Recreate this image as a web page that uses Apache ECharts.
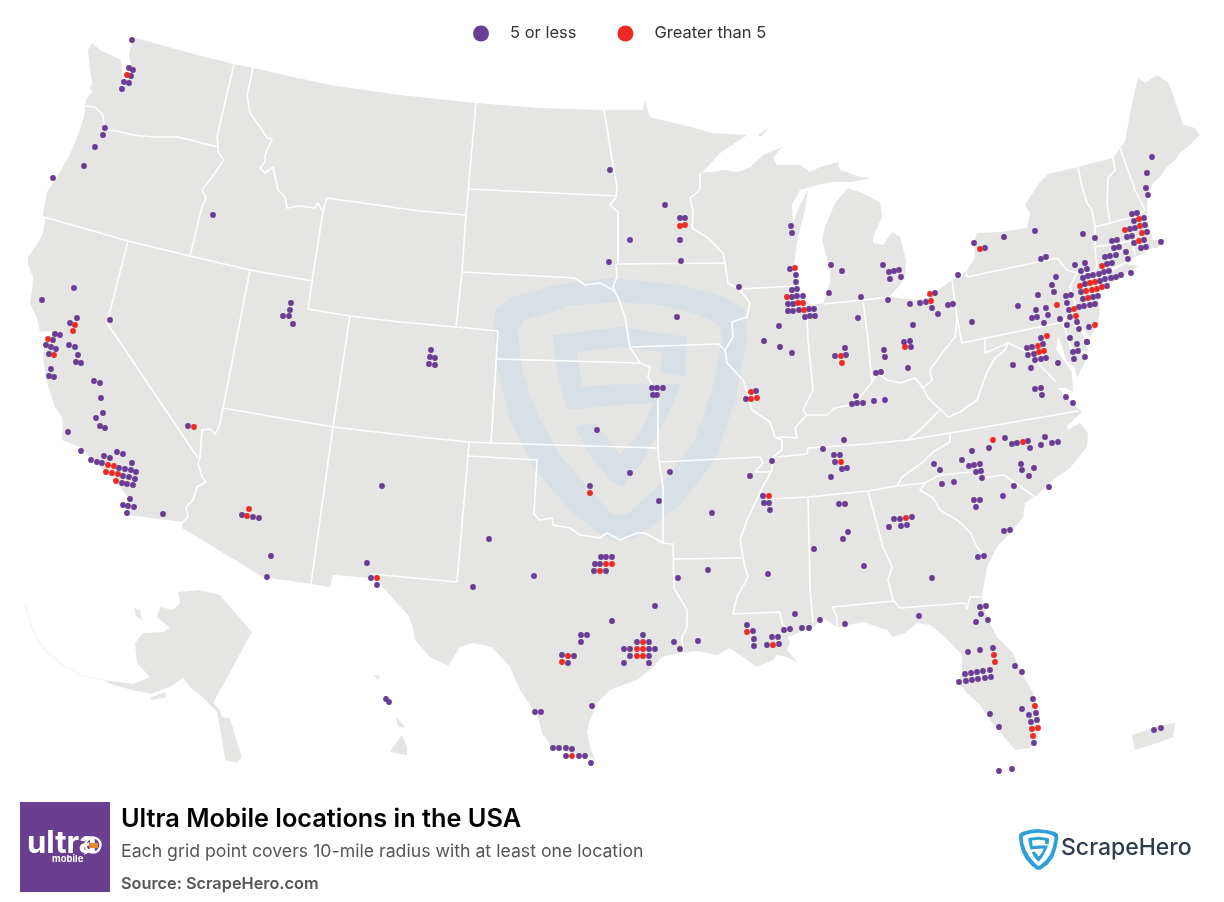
<!DOCTYPE html>
<html>
<head>
<meta charset="utf-8">
<title>Ultra Mobile locations in the USA</title>
<script src="https://cdn.jsdelivr.net/npm/echarts@6/dist/echarts.min.js"></script>
<style>
  html, body { margin: 0; padding: 0; background: #fff; }
  #chart { width: 1224px; height: 902px; }
</style>
</head>
<body>
<div id="chart"></div>
<script>

const legendNames = ['5 or less', 'Greater than 5'];

const fewStores = [
  [132,40],[129,68],[133,70],[131,76],[124,82],[129,83],[122,89],[105,128],[103,135],[95,147],[84,166],[53,178],[213,215],
  [74,288],[42,300],[291,303],[290,310],[283,316],[289,316],[293,324],
  [77,318],[70,323],[110,320],[55,334],[60,335],[53,340],[46,345],[51,347],[56,349],[49,354],[69,345],[75,347],[78,355],
  [76,362],[81,363],[51,369],[49,376],[54,377],[94,381],[100,383],[101,398],[103,413],[96,418],[100,426],[105,428],[68,432],
  [81,451],[117,452],[123,454],[104,456],[110,458],[91,460],[97,462],[102,463],[132,463],[119,468],[125,469],[131,470],[136,472],
  [123,476],[129,477],[135,479],[122,483],[127,484],[133,485],[130,499],[123,505],[128,506],[134,507],[127,513],[163,514],
  [188,426],[242,515],[253,517],[259,518],[271,556],[267,577],[382,486],[367,563],[371,578],[377,585],
  [610,170],[665,205],[680,218],[685,218],[630,240],[680,240],[609,262],[681,261],[739,287],[677,317],
  [431,350],[430,357],[435,358],[429,364],[435,365],[791,226],[792,233],[790,269],[796,275],[796,282],[792,290],[797,289],
  [792,297],[797,296],[803,296],[788,304],[793,304],[788,311],[793,311],[799,310],[809,309],[814,309],[805,317],[810,316],[815,316],
  [779,326],[764,341],[780,347],[792,353],
  [652,388],[657,388],[663,388],[653,395],[657,395],[597,430],[630,473],[670,472],[590,486],[659,501],[712,513],[489,539],
  [473,587],[534,576],[601,557],[606,557],[612,557],[595,564],[600,564],[594,571],[606,571],[678,578],[708,570],[655,606],[612,621],
  [581,635],[587,635],[581,642],[643,635],[637,642],[649,642],[624,649],[630,649],[649,649],[655,649],[630,656],[649,656],[624,663],[649,663],
  [562,655],[574,656],[568,663],[674,642],[680,649],[698,641],[747,625],[753,631],[754,639],[754,646],[756,391],[746,399],[750,476],
  [592,706],[535,712],[541,712],[553,748],[559,748],[566,748],[572,749],[566,756],[579,756],[585,756],[591,763],
  [772,637],[778,637],[767,645],[779,644],[795,614],[784,630],[790,629],[802,628],[809,628],[820,620],
  [845,348],[835,356],[846,355],[884,350],[885,357],[904,342],[910,341],[911,347],[908,368],[876,373],[881,372],[856,396],[852,404],[857,403],
  [863,403],[874,401],[885,400],[844,440],[823,449],[834,455],[840,455],[835,462],[842,469],[847,468],[831,477],[772,461],[763,496],
  [764,503],[769,503],[770,510],[839,504],[845,504],[848,532],[843,539],[814,549],[768,574],[864,566],[894,519],[900,519],[912,517],
  [889,527],[901,526],[907,525],[932,578],[978,557],[984,556],[1004,531],[1010,530],[974,500],[980,500],[976,507],[1003,496],[1014,486],
  [1049,487],[942,484],[954,482],[934,464],[940,470],[962,460],[969,466],[974,465],[980,464],[976,472],[981,471],[982,478],[972,451],
  [989,448],[1005,438],[1012,444],[1017,443],[1028,441],[1030,448],[1045,437],[1041,445],[1052,443],[1058,442],[1021,464],[1022,470],
  [1034,468],[1029,476],[1035,389],[1041,388],[1042,395],[1066,397],[1073,403],[1013,365],[1031,368],[1058,363],[1027,348],[1032,347],
  [1043,344],[1028,355],[1034,354],[1035,360],[1041,359],[1046,358],[1077,344],[1087,342],[1073,352],[1078,351],[1074,359],[1085,357],
  [845,624],[919,616],[980,607],[986,606],[981,614],[976,622],[988,620],
  [968,652],[980,650],[993,648],[1015,666],[1022,672],[965,674],[971,673],[977,672],[983,671],[990,670],[959,682],[966,681],[972,680],
  [978,679],[985,678],[991,677],[1033,699],[1036,713],[1037,720],[1022,709],[1029,715],[1031,722],[1034,743],[990,714],[999,727],
  [999,771],[1012,769],[1154,730],[1161,728],[386,699],[389,702],
  [831,265],[842,271],[883,265],[889,272],[894,271],[899,270],[890,279],[901,277],[829,293],[861,297],[888,300],[910,304],[920,303],[926,302],
  [935,293],[932,308],[938,314],[948,305],[953,304],[958,275],[858,318],[913,325],[974,243],[985,248],[1004,237],[1035,231],[1083,234],[1095,238],
  [972,322],[1018,306],[1038,295],[1056,277],[1052,285],[1054,292],[1041,259],[1046,257],[1075,265],[1085,263],[1081,271],[1087,269],
  [1036,310],[1046,308],[1032,318],[1037,317],[1048,315],[1044,323],[1060,319],[1066,296],[1071,295],[1067,303],[1069,310],[1070,317],
  [1077,322],[1067,325],[1079,329],[1089,327],[1079,307],[1084,306],[1090,305],[1095,304],[1083,299],[1093,297],[1098,296],[1081,292],
  [1107,286],[1085,284],[1100,281],[1105,279],[1111,278],[1116,277],[1121,275],[1131,273],[1083,278],[1088,276],[1093,275],[1099,274],
  [1104,272],[1109,271],[1107,264],[1112,263],[1105,257],[1110,256],[1116,255],[1128,259],[1126,252],[1114,248],[1119,247],[1112,241],
  [1117,240],[1127,237],[1132,236],[1130,229],[1135,228],[1145,225],[1147,232],[1144,240],[1134,243],[1141,248],[1146,247],[1161,242],
  [1134,221],[1144,218],[1132,214],[1137,213],[1148,195],[1146,188],[1147,173],[1152,157],[1041,338],[1070,338],[1087,342]
];

const manyStores = [
  [127,75],[75,325],[73,331],[48,339],[54,355],[108,465],[114,466],[106,472],[112,473],[118,474],[116,481],[194,427],[249,509],[247,516],[377,578],
  [680,226],[685,225],[795,268],[787,297],[798,303],[803,303],[804,310],[590,493],[606,564],[612,564],[600,571],[643,642],[637,649],[643,649],
  [637,656],[643,656],[568,656],[562,662],[747,632],[751,392],[751,399],[757,398],[572,756],[773,645],[841,356],[842,363],[905,347],[841,462],
  [769,496],[906,518],[993,440],[1023,442],[1038,346],[1039,352],[1044,351],[1047,336],[994,655],[995,662],[1035,706],[1032,729],[1038,728],[1033,736],
  [930,294],[931,301],[980,249],[1057,305],[1074,309],[1076,316],[1095,325],[1088,298],[1086,291],[1092,290],[1097,289],[1102,287],[1080,286],
  [1090,283],[1095,282],[1102,266],[1125,230],[1140,226],[1142,233],[1139,241],[1139,219]
];

// land outlines
const mainland = [
  [132,37],[131,46],[129,54],[131,64],[129,75],[125,85],[122,87],[122,70],[121,60],[113,56],[100,50],[92,43],[88,50],[90,70],[92,83],[90,88],[92,92],
  [87,98],[85,105],[85,112],[82,123],[75,143],[67,160],[55,180],[47,192],[45,203],[43,215],[45,220],[43,233],[38,243],[28,257],[28,265],[33,277],[32,290],
  [30,303],[37,318],[40,332],[47,331],[52,332],[52,337],[46,338],[45,343],[43,357],[47,383],[55,407],[62,417],[63,425],[62,440],[80,447],[90,457],[103,470],
  [117,483],[128,497],[128,515],[183,522],[182,528],[263,577],[312,584],[330,587],[333,575],[372,578],[377,578],[383,588],[397,603],[408,615],[413,627],[415,640],
  [430,657],[448,666],[460,647],[472,643],[492,647],[510,667],[520,690],[538,717],[542,733],[552,747],[567,752],[590,757],[595,760],[590,747],[587,732],[590,720],
  [597,703],[610,690],[637,680],[653,667],[662,657],[680,653],[697,651],[717,655],[730,648],[747,660],[757,667],[773,660],[777,655],[787,657],[798,663],[787,650],
  [790,643],[788,637],[813,627],[823,618],[837,627],[863,622],[887,630],[893,637],[905,633],[917,623],[930,625],[945,637],[962,655],[962,673],[958,682],[967,693],
  [980,705],[990,720],[1000,732],[1015,750],[1030,748],[1038,737],[1040,717],[1033,693],[1020,670],[1013,653],[997,637],[987,617],[982,597],[987,567],[997,547],
  [1013,530],[1023,517],[1025,503],[1037,495],[1053,480],[1070,468],[1087,447],[1088,433],[1080,423],[1068,430],[1067,426],[1082,412],[1073,403],[1066,396],
  [1058,388],[1066,388],[1073,392],[1072,372],[1062,358],[1056,350],[1058,336],[1062,345],[1066,360],[1075,368],[1077,378],[1085,362],[1088,350],[1083,335],
  [1074,325],[1080,326],[1090,337],[1097,327],[1100,310],[1097,295],[1097,287],[1108,285],[1122,277],[1138,266],[1126,264],[1112,271],[1103,278],[1100,276],
  [1112,268],[1127,261],[1145,252],[1152,248],[1157,248],[1168,238],[1160,240],[1153,240],[1150,230],[1147,220],[1147,207],[1148,195],[1153,183],[1160,177],[1167,167],
  [1175,160],[1180,153],[1190,145],[1200,135],[1195,128],[1183,125],[1180,115],[1177,107],[1172,92],[1168,82],[1157,75],[1145,83],[1138,78],[1135,90],[1132,103],[1128,125],[1125,142],[1120,148],[1113,158],[1078,167],[1048,174],
  [1040,182],[1030,197],[1025,205],[1030,213],[1027,228],[1000,232],[977,233],[974,243],[975,258],[967,270],[952,280],[938,290],[930,297],[917,300],[897,298],[890,296],
  [900,285],[905,277],[906,260],[900,237],[892,232],[883,245],[873,243],[873,237],[882,217],[880,202],[862,193],[848,188],[835,203],[825,227],[822,240],[830,270],
  [830,283],[823,303],[812,305],[803,300],[797,287],[793,270],[798,237],[805,210],[808,190],[800,205],[793,222],[792,205],[800,190],[818,185],[833,182],[852,182],
  [872,178],[860,177],[840,170],[838,162],[820,167],[810,172],[800,165],[777,165],[773,158],[782,147],[763,155],[750,167],[738,172],[725,170],[702,173],[720,153],
  [747,135],[712,133],[695,128],[670,122],[650,117],[645,100],[643,110],[603,110],[540,108],[476,103],[400,95],[330,85],[253,68],[234,64],[190,53]
];
const alaska = [
  [178,592],[200,590],[220,595],[230,607],[252,632],[213,703],[220,710],[222,717],[230,718],[240,752],[242,757],[237,763],[225,760],[222,740],[217,712],[200,695],
  [190,687],[183,678],[170,687],[150,694],[133,690],[113,685],[103,680],[133,684],[150,677],[137,663],[135,643],[143,633],[163,632],[170,628],[157,617],[160,607],
  [173,610],[180,603]
];
const kodiak = [[150,698],[165,692],[166,697],[152,700]];
const stLawrence = [[134,608],[140,610],[142,620],[136,616]];
const isleRoyale = [[758,135],[768,128],[766,132],[760,137]];
const hawaii = [[390,752],[396,743],[402,735],[407,747],[407,755]];
const maui = [[395,716],[405,727],[405,728],[398,726]];
const oahu = [[373,675],[380,676],[378,680]];
const puertoRico = [[1132,735],[1163,725],[1175,723],[1173,737],[1160,742],[1135,750]];
const landShapes = [mainland, alaska, kodiak, stLawrence, isleRoyale, hawaii, maui, oahu, puertoRico];

const aleutians = [[25,605],[33,630],[43,648],[60,663],[80,675],[103,680]];

// state borders
const stateBorders = [
  [[234,64],[217,137],[218,147]],
  [[218,147],[218,152],[224,160],[212,177],[202,190],[206,198],[202,207],[190,256]],
  [[86,106],[95,107],[103,115],[105,130],[117,131],[133,135],[153,137],[178,137],[218,147]],
  [[44,217],[128,241],[190,256],[250,270],[312,281]],
  [[253,68],[247,96],[250,113],[260,127],[267,138],[272,139],[265,155],[265,162],[260,168],[265,173],[273,167],[278,190],[285,197],[287,208],[300,206],[315,208],[318,203],[323,212]],
  [[327,198],[323,212],[312,281],[308,309]],
  [[327,198],[420,211],[466,215]],
  [[308,309],[350,316],[400,322],[456,327],[498,331]],
  [[476,103],[466,215],[462,272],[456,327]],
  [[250,270],[223,408],[219,427]],
  [[350,316],[333,427],[311,584]],
  [[223,408],[333,427],[420,437],[469,442],[491,443],[658,448]],
  [[498,331],[491,443]],
  [[128,241],[107,323],[198,458]],
  [[219,427],[215,434],[210,429],[202,430],[200,457],[198,463],[202,477],[206,482],[197,487],[193,500],[186,507],[188,517],[183,522]],
  [[469,442],[468,456],[537,460],[534,514],[540,520],[552,518],[553,525],[570,528],[580,535],[600,538],[607,533],[620,540],[637,533],[645,533],[663,543],[673,544],[674,588],[687,610],[687,627],[682,637],[683,650]],
  [[468,456],[457,582],[372,574]],
  [[658,448],[659,462],[663,487],[663,543]],
  [[674,559],[742,558]],
  [[700,173],[700,190],[690,198],[693,210],[692,228],[708,238],[723,253],[725,263],[728,283],[740,290],[750,303],[747,317],[732,322],[733,337],[725,350],[727,363],[743,380],[748,395],[752,410],[770,422],[775,437],[782,440],[782,450],[773,457],[772,470],[762,488],[755,503],[747,520],[740,540],[745,567],[748,577],[737,597],[733,614],[780,612],[782,623],[787,630]],
  [[616,264],[725,263]],
  [[604,110],[610,147],[617,187],[616,197],[610,205],[618,212],[618,264]],
  [[468,189],[617,196]],
  [[462,272],[575,278],[585,285],[600,283],[613,290],[618,297]],
  [[616,264],[617,277],[613,287],[618,297],[625,317],[630,347],[640,363],[650,367],[648,377],[658,395],[658,448]],
  [[497,359],[640,363]],
  [[632,347],[718,344],[725,350]],
  [[659,462],[720,459],[760,457],[763,463],[755,472],[772,472]],
  [[777,457],[807,454],[808,448],[867,444],[907,440],[950,433],[1078,411]],
  [[769,499],[808,497],[868,491],[897,486],[925,483]],
  [[950,433],[950,442],[933,452],[923,462],[902,477],[897,486]],
  [[907,440],[920,430],[940,410]],
  [[923,388],[928,398],[940,409],[948,417],[960,412],[977,400],[987,372],[995,358],[1005,350],[1008,343],[1017,347],[1030,353],[1040,365],[1056,382]],
  [[775,438],[782,437],[797,438],[795,428],[807,415],[827,415],[835,408],[850,405],[860,397],[872,382],[877,373],[887,380],[900,383],[915,378],[923,388]],
  [[923,388],[932,380],[930,370],[942,353],[955,337],[957,318],[952,280]],
  [[957,318],[962,343],[1063,322]],
  [[966,270],[967,277],[1057,258],[1067,270],[1077,273],[1070,287],[1075,303],[1063,322],[1072,352],[1087,352]],
  [[985,338],[985,353],[1008,343]],
  [[1078,167],[1082,187],[1087,203],[1092,210],[1095,227],[1095,247],[1097,267],[1092,273],[1077,273]],
  [[1113,158],[1115,170],[1108,178],[1107,203],[1110,223]],
  [[1120,148],[1135,190],[1145,210]],
  [[1095,227],[1137,216],[1145,210]],
  [[1095,247],[1132,241],[1135,255]],
  [[740,289],[795,286]],
  [[807,317],[808,340],[812,380],[813,390],[803,410],[807,415]],
  [[863,300],[868,340],[872,382]],
  [[823,304],[863,300],[890,297]],
  [[808,497],[810,587],[813,623]],
  [[868,491],[883,547],[892,567],[888,580],[893,600],[900,608],[965,603],[967,609],[970,597],[982,597]],
  [[832,607],[895,601]],
  [[832,607],[837,617],[837,627]],
  [[925,483],[920,490],[933,498],[940,510],[957,520],[970,532],[977,547],[985,557]],
  [[925,483],[940,475],[972,472],[982,478],[1004,475],[1035,497]]
];

// shield mark, used for the watermark and the small logo
const shieldOuter = [
  [494,330],[495,310],[513,297],[560,284],[613,278],[680,285],[725,297],[745,310],[747,340],[735,400],[715,460],[680,505],[635,538],[620,541],[605,538],[570,510],
  [535,470],[510,420],[498,370]
];
const shieldInner = [
  [518,330],[525,320],[570,306],[613,302],[660,305],[700,315],[720,325],[722,340],[712,390],[695,440],[665,480],[630,512],[620,516],[610,512],[590,490],[560,455],
  [535,410],[522,370]
];
const shieldLetter = [
  [553,335],[620,327],[687,337],[685,377],[660,372],[662,352],[620,347],[577,352],[582,387],[620,384],[680,384],[675,400],[660,430],[640,465],[622,487],[610,480],
  [590,455],[575,427],[595,423],[620,455],[640,433],[653,403],[620,405],[567,410],[557,370]
];

const landColor = '#e5e5e3';
const markColor = '#d8e0e5';
const logoBlue = '#2f9fd8';
const uiFont = 'Inter, "Noto Sans", sans-serif';

let polygonSeries = (shapes, color, z) => ({
  type: 'custom',
  coordinateSystem: 'cartesian2d',
  silent: true,
  clip: false,
  z: z,
  data: shapes.map((s, i) => [i]),
  renderItem: (params, api) => ({
    type: 'polygon',
    shape: { points: shapes[params.dataIndex].map(p => api.coord(p)) },
    style: { fill: color }
  })
});

let lineSeries = (paths, color, width, z) => ({
  type: 'custom',
  coordinateSystem: 'cartesian2d',
  silent: true,
  clip: false,
  z: z,
  data: paths.map((s, i) => [i]),
  renderItem: (params, api) => ({
    type: 'polyline',
    shape: { points: paths[params.dataIndex].map(p => api.coord(p)) },
    style: { fill: 'none', stroke: color, lineWidth: width, lineJoin: 'round' }
  })
});

// small copy of the shield next to the ScrapeHero name
let logoPart = (pts, color, z) => ({
  type: 'polygon',
  z: z,
  shape: { points: pts.map(p => [p[0] * 0.155 + 942.5, p[1] * 0.155 + 786]) },
  style: { fill: color }
});

let label = (x, y, text, fill, font) => ({
  type: 'text', x: x, y: y, z: 20,
  style: { text: text, fill: fill, font: font, textVerticalAlign: 'top' }
});

let chart = echarts.init(document.getElementById('chart'));

chart.setOption({
  animation: false,
  backgroundColor: '#fff',
  grid: { left: 0, right: 0, top: 0, bottom: 0 },
  xAxis: { type: 'value', min: 0, max: 1224, show: false },
  yAxis: { type: 'value', min: 0, max: 902, inverse: true, show: false },
  legend: {
    data: legendNames,
    top: 20,
    left: 468,
    itemWidth: 16,
    itemHeight: 16,
    itemGap: 41,
    icon: 'circle',
    textStyle: { fontFamily: uiFont, fontSize: 16.5, color: '#333', padding: [0, 0, 0, 16] }
  },
  series: [
    polygonSeries(landShapes, landColor, 1),
    lineSeries([aleutians], '#f1f1f0', 1, 1),
    polygonSeries([shieldOuter], markColor, 2),
    polygonSeries([shieldInner], landColor, 2),
    polygonSeries([shieldLetter], markColor, 2),
    lineSeries(stateBorders, '#ffffff', 1.6, 3),
    {
      name: legendNames[0],
      type: 'scatter',
      data: fewStores,
      symbol: 'circle',
      symbolSize: 5.8,
      itemStyle: { color: '#6a3d94', opacity: 1 },
      z: 4
    },
    {
      name: legendNames[1],
      type: 'scatter',
      data: manyStores,
      symbol: 'circle',
      symbolSize: 5.8,
      itemStyle: { color: '#ee2a24', opacity: 1 },
      z: 5
    }
  ],
  graphic: {
    elements: [
      { type: 'rect', z: 10, shape: { x: 20, y: 802, width: 90, height: 90 }, style: { fill: '#6b3f8f' } },
      label(27, 828, 'ultra', '#fff', 'bold 31px ' + uiFont),
      label(52, 854, 'mobile', '#fff', 'bold 9.5px ' + uiFont),
      { type: 'circle', z: 20, shape: { cx: 93, cy: 845, r: 7.5 }, style: { fill: 'none', stroke: '#fff', lineWidth: 2.5 } },
      { type: 'rect', z: 21, shape: { x: 89, y: 843, width: 9, height: 5 }, style: { fill: '#e8842a' } },
      { type: 'polygon', z: 20, shape: { points: [[86, 850], [90, 852], [84, 855]] }, style: { fill: '#fff' } },
      label(121, 807, 'Ultra Mobile locations in the USA', '#000', '600 25.3px ' + uiFont),
      label(121, 843, 'Each grid point covers 10-mile radius with at least one location', '#555', '17.7px ' + uiFont),
      label(121, 876, 'Source: ScrapeHero.com', '#555', '600 16.3px ' + uiFont),
      logoPart(shieldOuter, logoBlue, 10),
      logoPart(shieldInner, '#fff', 11),
      logoPart(shieldLetter, logoBlue, 12),
      label(1061, 837, 'ScrapeHero', '#2e3b4e', '500 23px ' + uiFont)
    ]
  }
});
</script>
</body>
</html>
